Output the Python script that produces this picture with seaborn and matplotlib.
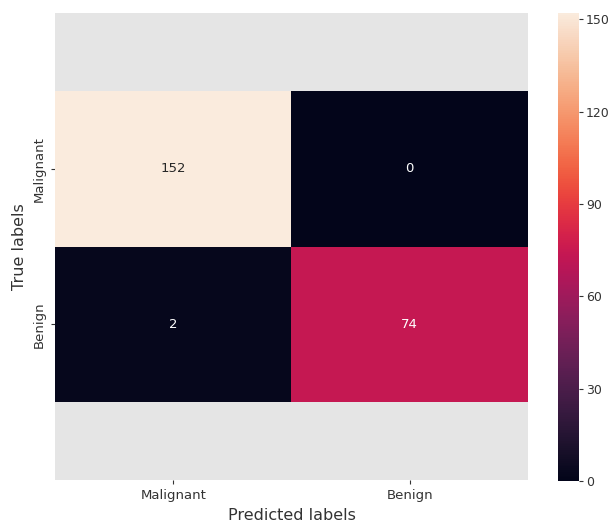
import numpy as np
import pandas as pd
import matplotlib
matplotlib.use("Agg")
import matplotlib.pyplot as plt
import seaborn as sns

# Confusion matrix of the breast cancer classifier
class_names = ["Malignant", "Benign"]
row_malignant = [152, 0]
row_benign = [2, 74]
cbar_ticks = [0, 30, 60, 90, 120, 150]

cm = pd.DataFrame([row_malignant, row_benign], index=class_names, columns=class_names)

plt.style.use("ggplot")
fig = plt.figure(figsize=(6.13, 5.27), dpi=100)
ax = fig.add_axes([0.0897, 0.0892, 0.7716, 0.886])
cax = fig.add_axes([0.910, 0.0873, 0.0343, 0.888])

sns.heatmap(cm, annot=True, fmt="d", ax=ax, cbar_ax=cax,
            annot_kws={"fontsize": 9.5},
            cbar_kws={"ticks": cbar_ticks})

ax.set_ylim(2.5, -0.5)
ax.grid(False)
ax.set_xlabel("Predicted labels", fontsize=11.5, color="#333333")
ax.set_ylabel("True labels", fontsize=11.5, color="#333333")
ax.tick_params(axis="both", labelsize=9.5, colors="#333333", length=3)
ax.set_yticklabels(class_names, rotation=90, va="center")
ax.set_xticklabels(class_names, rotation=0)

cax.tick_params(labelsize=9, colors="#333333", length=3, pad=2)
cax.grid(False)
for s in cax.spines.values():
    s.set_visible(False)

fig.savefig("out.png", dpi=100)
